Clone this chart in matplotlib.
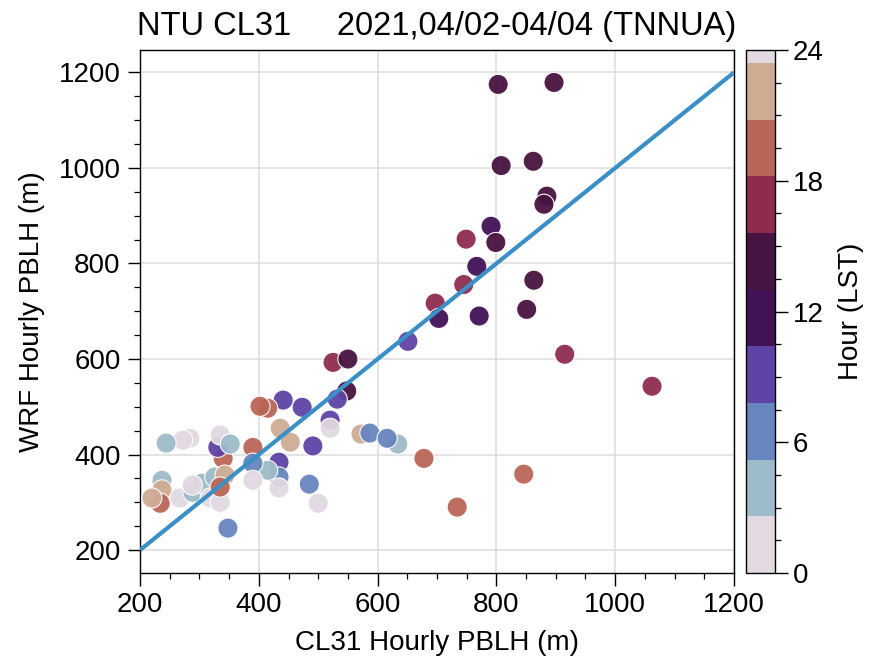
import numpy as np
import matplotlib
matplotlib.use("Agg")
import matplotlib.pyplot as plt
from matplotlib.colors import ListedColormap, BoundaryNorm
from matplotlib.cm import ScalarMappable
from matplotlib.ticker import MultipleLocator

plt.rcParams['font.family'] = ['Liberation Sans', 'DejaVu Sans']

# ---- data ----
cl31_pblh = [803, 897, 808, 862, 885, 880, 791, 749, 799, 767, 745, 863, 697, 703,
             771, 851, 915, 1062, 651, 525, 550, 548, 532, 473, 441, 415, 402, 520,
             520, 436, 453, 491, 572, 587, 634, 616, 678, 734, 846, 434, 434, 434,
             485, 500, 415, 390, 390, 390, 348, 340, 331, 335, 352, 284, 272, 244,
             237, 237, 234, 220, 267, 289, 304, 318, 335, 326, 343, 335, 288]
wrf_pblh = [1175, 1179, 1005, 1014, 941, 924, 878, 851, 844, 794, 756, 765, 717, 685,
            690, 704, 610, 543, 637, 593, 600, 533, 516, 499, 514, 497, 501, 472,
            455, 455, 426, 418, 443, 445, 422, 434, 392, 290, 359, 384, 353, 330,
            338, 298, 367, 415, 382, 346, 246, 392, 415, 441, 422, 434, 430, 424,
            346, 326, 298, 309, 309, 321, 340, 309, 300, 353, 357, 332, 336]
hour_lst = [14, 14, 14, 15, 15, 14, 12, 17, 13, 12, 17, 14, 17, 11,
            12, 14, 17, 17, 10, 17, 13, 13, 10, 9, 9, 19, 20, 10,
            1, 22, 22, 9, 23, 7, 5, 6, 19, 20, 19, 10, 7, 1,
            7, 2, 4, 20, 6, 0, 7, 20, 8, 1, 4, 2, 1, 3,
            4, 21, 19, 22, 0, 3, 4, 2, 0, 5, 21, 19, 1]

levels = [0, 2.6, 5.2, 7.8, 10.4, 13.0, 15.6, 18.2, 20.8, 23.4, 24]
one_to_one = [200, 1200]

# ---- figure ----
fig = plt.figure(figsize=(8.7, 6.66), dpi=100)
ax = fig.add_axes([140/870, 1-573/666, (734-140)/870, (573-50)/666])
cax = fig.add_axes([746/870, 1-573/666, 29/870, (573-50)/666])

base = plt.get_cmap('twilight')
cmap = ListedColormap(base(np.linspace(0, 1, len(levels)-1)))
norm = BoundaryNorm(levels, cmap.N)

ax.grid(True, color='#dcdcdc', linewidth=1.1, zorder=0)
ax.scatter(cl31_pblh, wrf_pblh, c=hour_lst, cmap=cmap, norm=norm, s=210,
           edgecolors='white', linewidths=0.8, alpha=0.95, zorder=3)
ax.plot(one_to_one, one_to_one, color='#3a8fc6', linewidth=3.0, zorder=4,
        solid_capstyle='butt')

ax.set_xlim(200, 1200)
ax.set_ylim(152, 1247)
ax.xaxis.set_major_locator(MultipleLocator(200))
ax.xaxis.set_minor_locator(MultipleLocator(50))
ax.yaxis.set_major_locator(MultipleLocator(200))
ax.yaxis.set_minor_locator(MultipleLocator(50))
ax.tick_params(which='major', length=9, width=1.0, labelsize=20, pad=5, direction='out')
ax.tick_params(which='minor', length=4.5, width=0.9, direction='out')
for sp in ax.spines.values():
    sp.set_linewidth(1.0)

ax.set_xlabel('CL31 Hourly PBLH (m)', fontsize=20, labelpad=8)
ax.set_ylabel('WRF Hourly PBLH (m)', fontsize=20, labelpad=10)
ax.set_title('NTU CL31     2021,04/02-04/04 (TNNUA)', fontsize=23.5, pad=11)

sm = ScalarMappable(norm=norm, cmap=cmap)
cb = fig.colorbar(sm, cax=cax, spacing='proportional', ticks=[0, 6, 12, 18, 24])
cb.ax.yaxis.set_minor_locator(MultipleLocator(1.5))
cb.ax.tick_params(which='major', length=9, width=1.0, labelsize=20, pad=4)
cb.ax.tick_params(which='minor', length=4.5, width=0.9)
cb.outline.set_linewidth(1.0)
cb.set_label('Hour (LST)', fontsize=20, labelpad=10)

fig.savefig('out.png', dpi=100)
